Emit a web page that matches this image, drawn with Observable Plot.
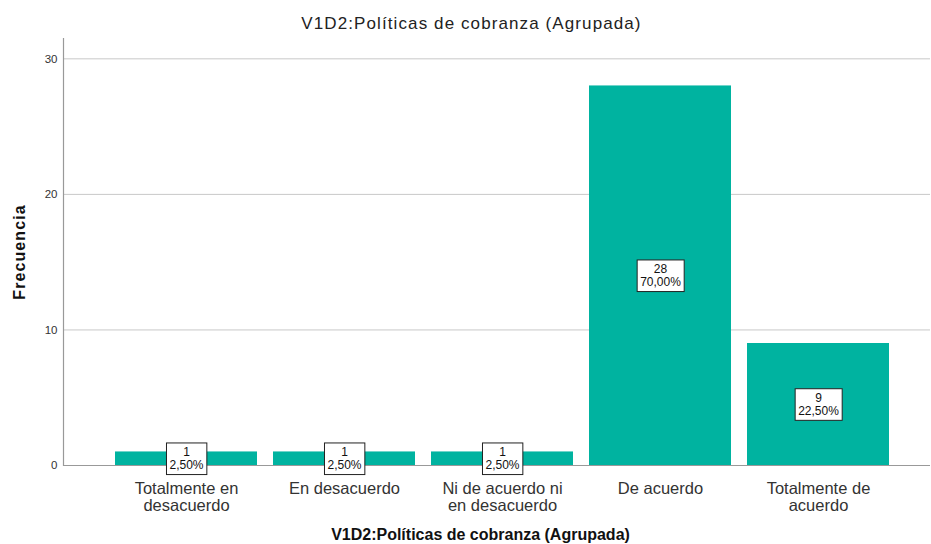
<!DOCTYPE html>
<html><head><meta charset="utf-8">
<script src="https://cdn.jsdelivr.net/npm/d3@7"></script>
<script src="https://cdn.jsdelivr.net/npm/@observablehq/plot@0.6"></script>
<style>
html,body{margin:0;padding:0;background:#fff;overflow:hidden;}
#wrap{position:relative;width:931px;height:544px;font-family:"Liberation Sans",Arial,sans-serif;}
#title{position:absolute;left:6px;top:14px;width:931px;text-align:center;font-size:17px;letter-spacing:1.1px;color:#222;line-height:20px;}
#chart{position:absolute;left:0;top:36px;}
#xlabel{position:absolute;left:15px;top:527px;width:931px;text-align:center;font-size:16px;font-weight:bold;line-height:15px;color:#111;}
</style></head><body>
<div id="wrap">
  <div id="title">V1D2:Políticas de cobranza (Agrupada)</div>
  <div id="chart"></div>
  <div id="xlabel">V1D2:Políticas de cobranza (Agrupada)</div>
</div>
<script>
const categories = ["Totalmente en\ndesacuerdo", "En desacuerdo", "Ni de acuerdo ni\nen desacuerdo", "De acuerdo", "Totalmente de\nacuerdo"];
const counts = [1, 1, 1, 28, 9];
const percents = ["2,50%", "2,50%", "2,50%", "70,00%", "22,50%"];
const yTicks = [0, 10, 20, 30];
const yLabel = "Frecuencia";

const data = categories.map((c, i) => ({cat: c, count: counts[i], pct: percents[i]}));

const chart = Plot.plot({
  width: 931,
  height: 484,
  marginLeft: 63,
  marginRight: 1,
  marginTop: 2,
  marginBottom: 55,
  style: {fontFamily: '"Liberation Sans", Arial, sans-serif', background: "#fff", color: "#333"},
  x: {domain: categories, paddingInner: 0.1, paddingOuter: 0.29, align: 0.56, label: null},
  y: {domain: [0, 31.5], label: null},
  marks: [
    Plot.gridY(yTicks, {stroke: "#c8c8c8", strokeOpacity: 1}),
    Plot.barY(data, {x: "cat", y: "count", fill: "#00b3a0"}),
    Plot.ruleY([0], {stroke: "#999", strokeWidth: 1.2}),
    Plot.frame({anchor: "left", stroke: "#999", strokeWidth: 1.2}),
    Plot.axisY(yTicks, {tickSize: 0, tickPadding: 6, fontSize: 11.5, fill: "#333", label: null}),
    Plot.axisX({tickSize: 0, tickPadding: 17, fontSize: 16.5, lineHeight: 1.0, fill: "#333", label: null}),
    Plot.text(data, {
      x: "cat", y: d => d.count / 2,
      text: d => `${d.count}\n${d.pct}`,
      fontSize: 12, lineHeight: 1.05, fill: "#111",
      className: "lbl"
    }),
    Plot.text([yLabel], {frameAnchor: "left", textAnchor: "middle", rotate: -90, dx: -44, fontSize: 16, fontWeight: "bold", fill: "#111", className: "ylab"})
  ]
});
document.getElementById("chart").appendChild(chart);

// white boxes behind the value labels, sized from the rendered text
d3.select(chart).selectAll("g.lbl text").each(function() {
  const b = this.getBBox();
  const r = document.createElementNS("http://www.w3.org/2000/svg", "rect");
  r.setAttribute("x", b.x - 3);
  r.setAttribute("y", b.y - 2.5);
  r.setAttribute("width", b.width + 6);
  r.setAttribute("height", b.height + 5);
  r.setAttribute("fill", "#fff");
  r.setAttribute("stroke", "#222");
  r.setAttribute("stroke-width", 1);
  const t = this.getAttribute("transform");
  if (t) r.setAttribute("transform", t);
  this.parentNode.insertBefore(r, this);
});
d3.select(chart).selectAll("g.ylab text").style("letter-spacing", "1.1px");
</script>
</body></html>
